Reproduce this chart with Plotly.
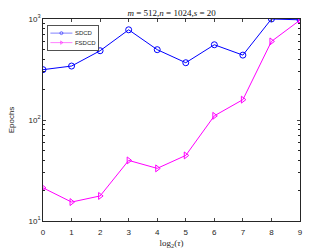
import plotly.graph_objects as go

x_vals = [0, 1, 2, 3, 4, 5, 6, 7, 8, 9]
sdcd = [315, 342, 485, 782, 497, 369, 556, 439, 1000, 982]
fsdcd = [21.3, 15.4, 17.7, 39.8, 33.2, 44.6, 110, 159, 600, 975]
y_tick_vals = [10, 100, 1000]
y_tick_text = ["10<sup>1</sup>", "10<sup>2</sup>", "10<sup>3</sup>"]
minor_vals = [m * d for d in (10, 100) for m in range(2, 10)]

fig = go.Figure()
fig.add_trace(go.Scatter(
    x=x_vals, y=sdcd, name="SDCD", mode="lines+markers",
    line=dict(color="#0000FF", width=1),
    marker=dict(symbol="circle-open", size=6, color="#0000FF", line=dict(width=1)),
))
fig.add_trace(go.Scatter(
    x=x_vals, y=fsdcd, name="FSDCD", mode="lines+markers",
    line=dict(color="#FF00FF", width=1),
    marker=dict(symbol="triangle-right-open", size=6, color="#FF00FF", line=dict(width=1)),
))

axis_color = "#262626"
fig.update_layout(
    width=332, height=249,
    margin=dict(l=43, r=32, t=19, b=28, autoexpand=False),
    paper_bgcolor="white", plot_bgcolor="white",
    font=dict(family="Liberation Sans, Arial, sans-serif", size=8, color=axis_color),
    title=dict(
        text="<i>m</i> = 512,<i>n</i> = 1024,<i>s</i> = 20",
        x=0.517, xanchor="center", y=0.95, yanchor="middle",
        font=dict(family="Liberation Serif, DejaVu Serif, serif", size=9, color="#111111"),
    ),
    showlegend=True,
    legend=dict(
        x=0.016, y=0.97, xanchor="left", yanchor="top",
        bgcolor="white", bordercolor=axis_color, borderwidth=1.6,
        font=dict(size=12, color=axis_color),
        itemwidth=44, tracegroupgap=0,
    ),
    xaxis=dict(
        range=[0, 9], tickvals=x_vals, ticks="inside", ticklen=3,
        showline=True, linecolor=axis_color, linewidth=0.8, mirror="ticks",
        showgrid=False, zeroline=False, tickfont=dict(size=8),
        automargin=False, ticklabelstandoff=3,
        title=dict(text="log<sub>2</sub>(<i>τ</i>)", standoff=6,
                   font=dict(family="Liberation Serif, DejaVu Serif, serif", size=9)),
    ),
    yaxis=dict(
        type="log", range=[1, 3], tickvals=y_tick_vals, ticktext=y_tick_text,
        ticks="inside", ticklen=3,
        minor=dict(tickvals=minor_vals, ticks="inside", ticklen=2, tickcolor=axis_color),
        showline=True, linecolor=axis_color, linewidth=0.8, mirror="ticks",
        showgrid=False, zeroline=False, tickfont=dict(size=8),
        automargin=False,
        title=dict(text="Epochs", standoff=12, font=dict(size=8)),
    ),
)

post = """
document.body.style.margin = '0';
var gd = document.getElementById('{plot_id}');
var lg = gd.querySelector('g.legend');
if (lg) {
  lg.setAttribute('transform', lg.getAttribute('transform') + ' scale(0.5)');
  lg.querySelectorAll('path.js-line').forEach(function(p) { p.setAttribute('d', 'M5,0h44'); });
  lg.querySelectorAll('g.legendpoints path.scatterpts').forEach(function(p) {
    p.setAttribute('transform', 'translate(27,0)');
  });
}
"""
fig.write_html("out.html", post_script=post, config={"displayModeBar": False})
